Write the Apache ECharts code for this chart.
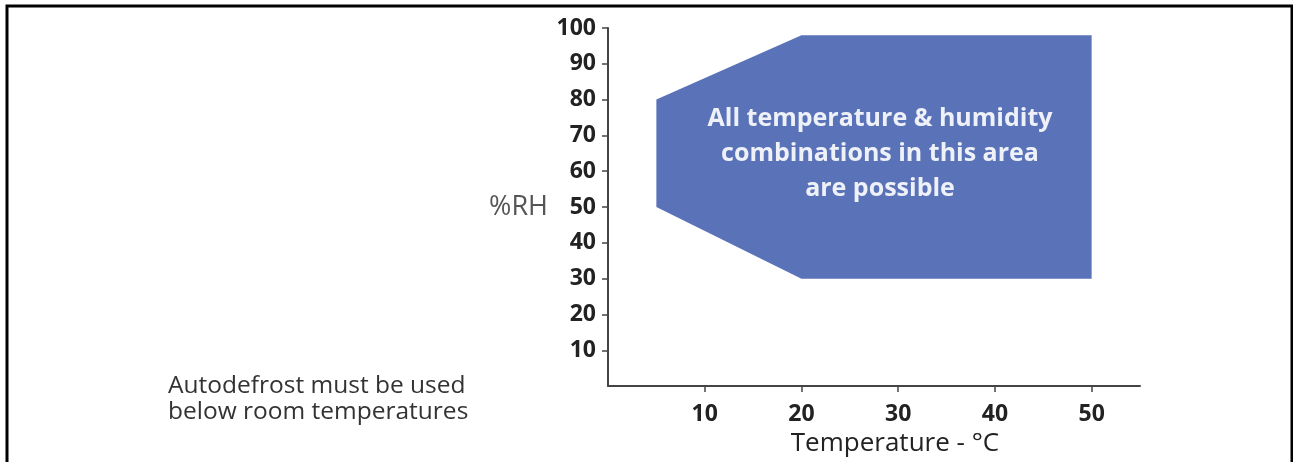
<!DOCTYPE html>
<html>
<head>
<meta charset="utf-8">
<script src="https://cdn.jsdelivr.net/npm/echarts@6/dist/echarts.min.js"></script>
<style>
html,body{margin:0;padding:0;background:#fff;}
#chart{width:1293px;height:462px;}
</style>
</head>
<body>
<div id="chart"></div>
<script>
// Region vertices (temperature °C, %RH)
const polyTemp = [5, 20, 50, 50, 20, 5];
const polyRH   = [80, 98, 98, 30, 30, 50];
// Axis tick labels
const xTicks = [10, 20, 30, 40, 50];
const yTicks = [10, 20, 30, 40, 50, 60, 70, 80, 90, 100];
const regionText = 'All temperature & humidity\ncombinations in this area\nare possible';
const noteText = 'Autodefrost must be used\nbelow room temperatures';

const FONT = '"Open Sans", "Noto Sans", sans-serif';
const chart = echarts.init(document.getElementById('chart'));

const option = {
  animation: false,
  backgroundColor: '#ffffff',
  grid: { left: 608, right: 153, top: 28, bottom: 74, containLabel: false },
  xAxis: {
    type: 'value', min: 0, max: 55, interval: 10,
    name: 'Temperature - °C', nameLocation: 'middle', nameGap: 34,
    nameTextStyle: { fontFamily: FONT, fontSize: 26, color: '#222', padding: [0, 0, 0, 42] },
    axisLine: { show: true, lineStyle: { color: '#444', width: 2 } },
    axisTick: { show: true, length: 6, inside: false, customValues: xTicks, lineStyle: { color: '#444', width: 1.5 } },
    axisLabel: { customValues: xTicks, margin: 17, fontFamily: FONT, fontSize: 23, fontWeight: 'bold', color: '#222' },
    splitLine: { show: false }
  },
  yAxis: {
    type: 'value', min: 0, max: 100, interval: 10,
    name: '%RH', nameLocation: 'middle', nameRotate: 0, nameGap: 60,
    nameTextStyle: { fontFamily: FONT, fontSize: 27, color: '#555', align: 'right', verticalAlign: 'middle' },
    axisLine: { show: true, lineStyle: { color: '#444', width: 2 } },
    axisTick: { show: true, length: 6, inside: false, customValues: yTicks, lineStyle: { color: '#444', width: 1.5 } },
    axisLabel: { customValues: yTicks, margin: 12, fontFamily: FONT, fontSize: 23, fontWeight: 'bold', color: '#222' },
    splitLine: { show: false }
  },
  series: [{
    type: 'custom',
    coordinateSystem: 'cartesian2d',
    data: polyTemp.map((t, i) => [t, polyRH[i]]),
    renderItem: function (params, api) {
      if (params.dataIndex !== 0) return null;
      const pts = polyTemp.map((t, i) => api.coord([t, polyRH[i]]));
      return {
        type: 'polygon',
        shape: { points: pts },
        style: { fill: '#5a72b8', stroke: null }
      };
    },
    silent: true
  }],
  graphic: [
    {
      type: 'text', x: 880, y: 101, z: 100, silent: true,
      style: {
        text: regionText, align: 'center', verticalAlign: 'top',
        fontFamily: FONT, fontSize: 25, fontWeight: 'bold', lineHeight: 35,
        fill: '#eef1f8'
      }
    },
    {
      type: 'text', x: 168, y: 373, z: 100, silent: true,
      style: {
        text: noteText, align: 'left', verticalAlign: 'top',
        fontFamily: FONT, fontSize: 24.5, lineHeight: 26, fill: '#333'
      }
    },
    {
      type: 'rect', z: 100, silent: true,
      shape: { x: 7, y: 6, width: 1285, height: 470 },
      style: { fill: null, stroke: '#000', lineWidth: 3 }
    }
  ]
};
chart.setOption(option);
</script>
</body>
</html>
